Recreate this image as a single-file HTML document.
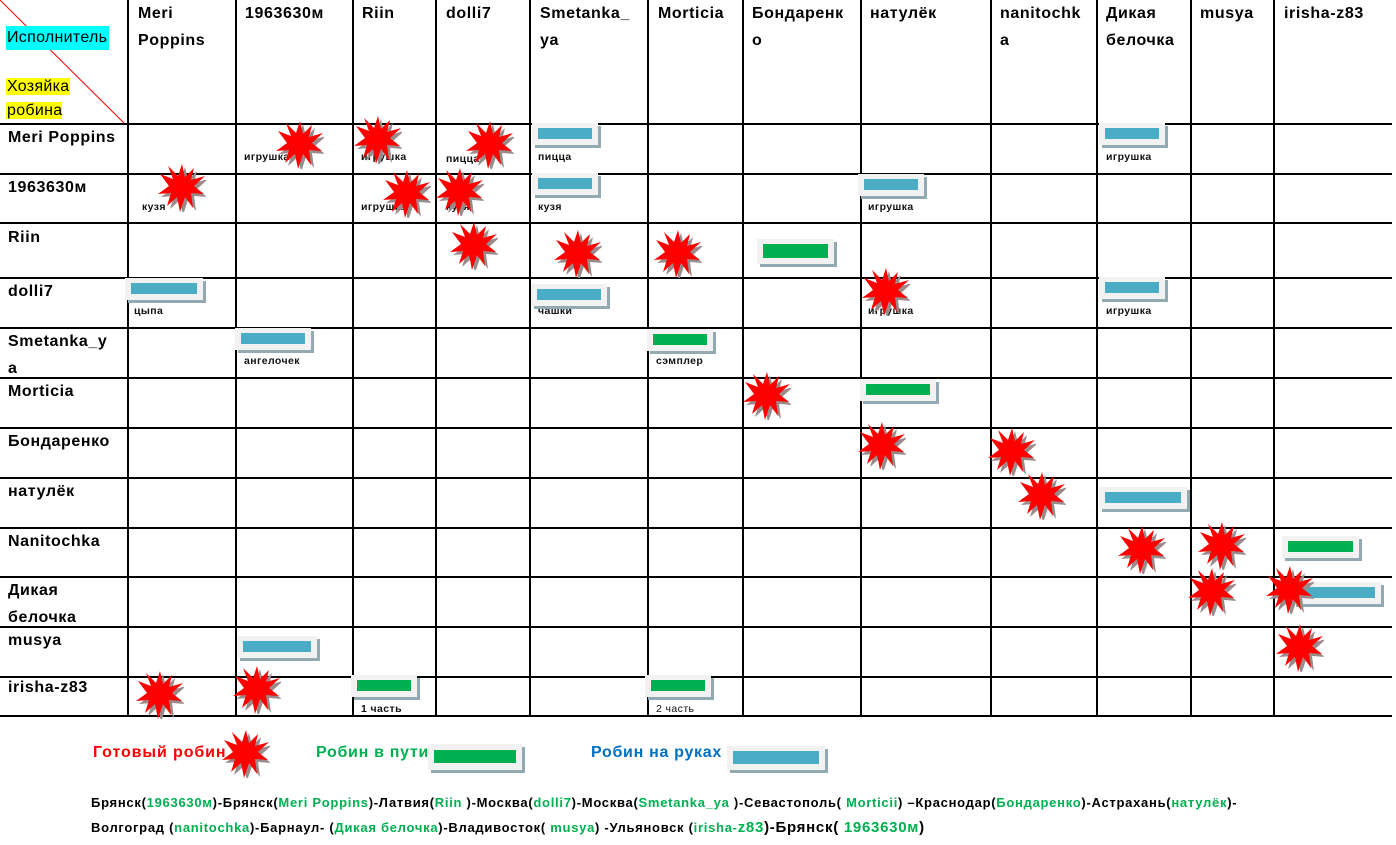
<!DOCTYPE html>
<html><head><meta charset="utf-8"><style>
body{margin:0;width:1396px;height:845px;background:#fff;position:relative;overflow:hidden;font-family:"Liberation Sans","DejaVu Sans",sans-serif}
.v{position:absolute;top:0;height:716px;width:1.5px;background:#000}
.h{position:absolute;left:0;width:1392px;height:1.5px;background:#000}
.t{position:absolute;font-weight:bold;font-size:16px;letter-spacing:0.6px;line-height:27px;color:#000}
.l{position:absolute;font-weight:bold;font-size:10.5px;letter-spacing:0.4px;color:#111}
.b{position:absolute;width:66px;height:22px;background:#f2f2f2;box-shadow:3px 3px 0 #93aab2}
.b i{position:absolute;left:6px;top:5px;right:6px;bottom:6px;background:#4bacc6}
.b.g i{background:#00b050}
.s{position:absolute;width:48px;height:48px}
</style></head><body>
<svg width="0" height="0" style="position:absolute"><defs><symbol id="st" viewBox="0 0 48 48">
<polygon transform="translate(3,3)" fill="#9a8a8a" points="24,0 27,13 36,4 33,16 47,12 36,22 46,30 33,29 35,44 27,33 22,48 19,33 9,42 13,29 0,30 11,22 2,10 15,15 10,2 20,12"/>
<polygon fill="#f00" points="24,0 27,13 36,4 33,16 47,12 36,22 46,30 33,29 35,44 27,33 22,48 19,33 9,42 13,29 0,30 11,22 2,10 15,15 10,2 20,12"/>
</symbol></defs></svg>
<div class="v" style="left:127px"></div><div class="v" style="left:235px"></div><div class="v" style="left:352px"></div><div class="v" style="left:435px"></div><div class="v" style="left:529px"></div><div class="v" style="left:647px"></div><div class="v" style="left:742px"></div><div class="v" style="left:860px"></div><div class="v" style="left:990px"></div><div class="v" style="left:1096px"></div><div class="v" style="left:1190px"></div><div class="v" style="left:1273px"></div>
<div class="h" style="top:123px"></div><div class="h" style="top:173px"></div><div class="h" style="top:222px"></div><div class="h" style="top:277px"></div><div class="h" style="top:327px"></div><div class="h" style="top:377px"></div><div class="h" style="top:427px"></div><div class="h" style="top:477px"></div><div class="h" style="top:527px"></div><div class="h" style="top:576px"></div><div class="h" style="top:626px"></div><div class="h" style="top:676px"></div><div class="h" style="top:715px"></div>
<svg style="position:absolute;left:0;top:0" width="130" height="125"><line x1="0" y1="0" x2="124" y2="123" stroke="#f00" stroke-width="1"/></svg>
<div style="position:absolute;left:6px;top:26px;background:#0ff;font-size:16px;letter-spacing:0.3px;line-height:24px;padding:0 2px 0 1px">Исполнитель</div>
<div style="position:absolute;left:6px;top:75px;font-size:16px;letter-spacing:0.3px;line-height:24px"><span style="background:#ff0;padding-left:1px">Хозяйка</span><br><span style="background:#ff0;padding-left:1px">робина</span></div>
<div class="t" style="left:138px;top:0px">Meri<br>Poppins</div>
<div class="t" style="left:245px;top:0px">1963630м</div>
<div class="t" style="left:362px;top:0px">Riin</div>
<div class="t" style="left:446px;top:0px">dolli7</div>
<div class="t" style="left:540px;top:0px">Smetanka_<br>ya</div>
<div class="t" style="left:658px;top:0px">Morticia</div>
<div class="t" style="left:752px;top:0px">Бондаренк<br>о</div>
<div class="t" style="left:870px;top:0px">натулёк</div>
<div class="t" style="left:1000px;top:0px">nanitochk<br>a</div>
<div class="t" style="left:1106px;top:0px">Дикая<br>белочка</div>
<div class="t" style="left:1200px;top:0px">musya</div>
<div class="t" style="left:1284px;top:0px">irisha-z83</div>
<div class="t" style="left:8px;top:124px">Meri Poppins</div>
<div class="t" style="left:8px;top:174px">1963630м</div>
<div class="t" style="left:8px;top:224px">Riin</div>
<div class="t" style="left:8px;top:278px">dolli7</div>
<div class="t" style="left:8px;top:328px">Smetanka_y<br>a</div>
<div class="t" style="left:8px;top:378px">Morticia</div>
<div class="t" style="left:8px;top:428px">Бондаренко</div>
<div class="t" style="left:8px;top:478px">натулёк</div>
<div class="t" style="left:8px;top:528px">Nanitochka</div>
<div class="t" style="left:8px;top:577px">Дикая<br>белочка</div>
<div class="t" style="left:8px;top:627px">musya</div>
<div class="t" style="left:8px;top:674px">irisha-z83</div>
<div class="l" style="left:244px;top:151px">игрушка</div>
<div class="l" style="left:361px;top:151px">игрушка</div>
<div class="l" style="left:446px;top:153px">пицца</div>
<div class="l" style="left:538px;top:151px">пицца</div>
<div class="l" style="left:1106px;top:151px">игрушка</div>
<div class="l" style="left:142px;top:201px">кузя</div>
<div class="l" style="left:361px;top:201px">игрушка</div>
<div class="l" style="left:446px;top:201px">кузя</div>
<div class="l" style="left:538px;top:201px">кузя</div>
<div class="l" style="left:868px;top:201px">игрушка</div>
<div class="l" style="left:134px;top:305px">цыпа</div>
<div class="l" style="left:538px;top:305px">чашки</div>
<div class="l" style="left:868px;top:305px">игрушка</div>
<div class="l" style="left:1106px;top:305px">игрушка</div>
<div class="l" style="left:244px;top:355px">ангелочек</div>
<div class="l" style="left:656px;top:355px">сэмплер</div>
<div class="l" style="left:361px;top:703px">1 часть</div>
<div class="l" style="left:656px;top:703px;font-weight:normal">2 часть</div>
<div class="b" style="left:532px;top:123px"><i></i></div>
<div class="b" style="left:1099px;top:123px"><i></i></div>
<div class="b" style="left:532px;top:173px"><i></i></div>
<div class="b" style="left:858px;top:174px"><i></i></div>
<div class="b g" style="left:757px;top:239px;width:77px;height:25px"><i></i></div>
<div class="b" style="left:125px;top:278px;width:78px"><i></i></div>
<div class="b" style="left:531px;top:284px;width:76px"><i></i></div>
<div class="b" style="left:1099px;top:277px"><i></i></div>
<div class="b" style="left:235px;top:328px;width:76px"><i></i></div>
<div class="b g" style="left:647px;top:329px"><i></i></div>
<div class="b g" style="left:860px;top:379px;width:76px"><i></i></div>
<div class="b" style="left:1099px;top:487px;width:88px"><i></i></div>
<div class="b g" style="left:1282px;top:536px;width:77px"><i></i></div>
<div class="b" style="left:1293px;top:582px;width:88px"><i></i></div>
<div class="b" style="left:237px;top:636px;width:80px"><i></i></div>
<div class="b g" style="left:351px;top:675px"><i></i></div>
<div class="b g" style="left:645px;top:675px"><i></i></div>
<div class="b g" style="left:428px;top:744px;width:94px;height:26px"><i style="top:6px;bottom:7px"></i></div>
<div class="b" style="left:727px;top:746px;width:98px;height:24px"><i></i></div>
<svg class="s" style="left:276px;top:121px"><use href="#st"/></svg>
<svg class="s" style="left:354px;top:116px"><use href="#st"/></svg>
<svg class="s" style="left:466px;top:121px"><use href="#st"/></svg>
<svg class="s" style="left:158px;top:164px"><use href="#st"/></svg>
<svg class="s" style="left:383px;top:170px"><use href="#st"/></svg>
<svg class="s" style="left:436px;top:168px"><use href="#st"/></svg>
<svg class="s" style="left:450px;top:222px"><use href="#st"/></svg>
<svg class="s" style="left:554px;top:230px"><use href="#st"/></svg>
<svg class="s" style="left:654px;top:230px"><use href="#st"/></svg>
<svg class="s" style="left:862px;top:268px"><use href="#st"/></svg>
<svg class="s" style="left:743px;top:372px"><use href="#st"/></svg>
<svg class="s" style="left:858px;top:422px"><use href="#st"/></svg>
<svg class="s" style="left:988px;top:428px"><use href="#st"/></svg>
<svg class="s" style="left:1018px;top:472px"><use href="#st"/></svg>
<svg class="s" style="left:1118px;top:526px"><use href="#st"/></svg>
<svg class="s" style="left:1198px;top:522px"><use href="#st"/></svg>
<svg class="s" style="left:1188px;top:568px"><use href="#st"/></svg>
<svg class="s" style="left:1266px;top:566px"><use href="#st"/></svg>
<svg class="s" style="left:1276px;top:624px"><use href="#st"/></svg>
<svg class="s" style="left:136px;top:671px"><use href="#st"/></svg>
<svg class="s" style="left:233px;top:666px"><use href="#st"/></svg>
<svg class="s" style="left:222px;top:730px"><use href="#st"/></svg>
<div style="position:absolute;left:93px;top:744px;font-weight:bold;font-size:16px;letter-spacing:0.9px;color:#f00">Готовый робин</div>
<div style="position:absolute;left:316px;top:744px;font-weight:bold;font-size:16px;letter-spacing:0.7px;color:#00b050">Робин в пути</div>
<div style="position:absolute;left:591px;top:744px;font-weight:bold;font-size:16px;letter-spacing:0.7px;color:#0070c0">Робин на руках</div>
<div style="position:absolute;left:91px;top:790px;font-weight:bold;font-size:13px;letter-spacing:0.72px;line-height:25px;white-space:nowrap;color:#000">Брянск(<span style="color:#00b050">1963630м</span>)-Брянск(<span style="color:#00b050">Meri Poppins</span>)-Латвия(<span style="color:#00b050">Riin </span>)-Москва(<span style="color:#00b050">dolli7</span>)-Москва(<span style="color:#00b050">Smetanka_ya </span>)-Севастополь( <span style="color:#00b050">Morticii</span>) –Краснодар(<span style="color:#00b050">Бондаренко</span>)-Астрахань(<span style="color:#00b050">натулёк</span>)-<br>Волгоград (<span style="color:#00b050">nanitochka</span>)-Барнаул- (<span style="color:#00b050">Дикая белочка</span>)-Владивосток( <span style="color:#00b050">musya</span>) -Ульяновск (<span style="color:#00b050">irisha-<span style="font-size:15px">z83</span></span><span style="font-size:15px">)-Брянск( <span style="color:#00b050">1963630м</span>)</span></div>
</body></html>
